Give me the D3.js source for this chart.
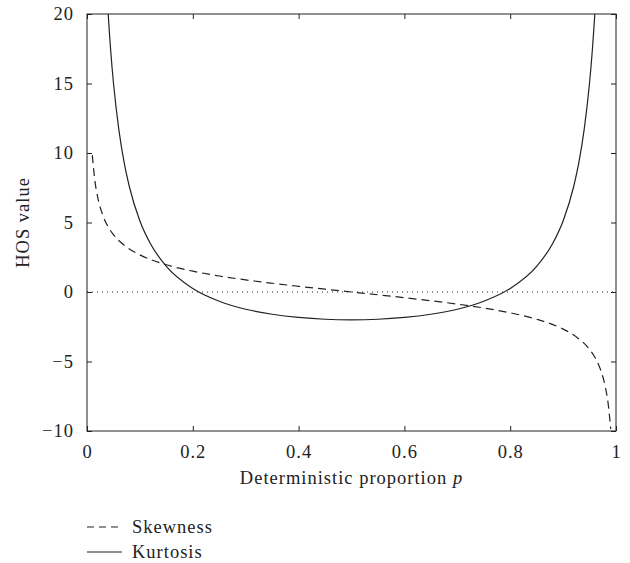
<!DOCTYPE html>
<html>
<head>
<meta charset="utf-8">
<script src="https://cdn.jsdelivr.net/npm/d3@7"></script>
<style>
  body { margin: 0; background: #fff; }
  svg text { font-family: "Liberation Serif", "Times New Roman", serif; fill: #222; letter-spacing: 1px; }
</style>
</head>
<body>
<div id="chart"></div>
<script>
"use strict";

// values
const skewP = [0.01, 0.015, 0.02, 0.03, 0.04, 0.05, 0.075, 0.1, 0.15, 0.2, 0.25, 0.3, 0.35, 0.4, 0.45, 0.5,
  0.55, 0.6, 0.65, 0.7, 0.75, 0.8, 0.85, 0.9, 0.925, 0.95, 0.96, 0.97, 0.98, 0.985, 0.99];
const skewVal = [9.85, 7.98, 6.86, 5.51, 4.69, 4.13, 3.23, 2.67, 1.96, 1.5, 1.15, 0.87, 0.63, 0.41, 0.2, 0,
  -0.2, -0.41, -0.63, -0.87, -1.15, -1.5, -1.96, -2.67, -3.23, -4.13, -4.69, -5.51, -6.86, -7.98, -9.85];

const kurtP = [0.035, 0.04, 0.045, 0.05, 0.06, 0.07, 0.08, 0.1, 0.12, 0.15, 0.2, 0.25, 0.3, 0.35, 0.4, 0.45, 0.5,
  0.55, 0.6, 0.65, 0.7, 0.75, 0.8, 0.85, 0.88, 0.9, 0.92, 0.93, 0.94, 0.95, 0.955, 0.96, 0.965];
const kurtVal = [23.6, 20.04, 17.27, 15.05, 11.73, 9.36, 7.59, 5.11, 3.47, 1.84, 0.25, -0.67, -1.24, -1.6, -1.83, -1.96, -2,
  -1.96, -1.83, -1.6, -1.24, -0.67, 0.25, 1.84, 3.47, 5.11, 7.59, 9.36, 11.73, 15.05, 17.27, 20.04, 23.6];

const xTicks = [0, 0.2, 0.4, 0.6, 0.8, 1];
const yTicks = [-10, -5, 0, 5, 10, 15, 20];
const legendLabels = ["Skewness", "Kurtosis"];

const W = 630, H = 563;
const margin = { top: 14, right: 14, bottom: 132, left: 87 };
const pw = W - margin.left - margin.right;
const ph = H - margin.top - margin.bottom;
const ink = "#222";
const fs = 18.5;

const svg = d3.select("#chart").append("svg")
  .attr("width", W)
  .attr("height", H);

const g = svg.append("g")
  .attr("transform", "translate(" + margin.left + "," + margin.top + ")");

const x = d3.scaleLinear().domain([0, 1]).range([0, pw]);
const y = d3.scaleLinear().domain([-10, 20]).range([ph, 0]);

g.append("clipPath").attr("id", "clip")
  .append("rect").attr("width", pw).attr("height", ph);

// zero line
g.append("line")
  .attr("x1", 0).attr("x2", pw)
  .attr("y1", y(0)).attr("y2", y(0))
  .attr("stroke", ink).attr("stroke-width", 1)
  .attr("stroke-dasharray", "1,4");

const line = d3.line()
  .x(d => x(d[0]))
  .y(d => y(d[1]))
  .curve(d3.curveMonotoneX);

g.append("path")
  .attr("clip-path", "url(#clip)")
  .attr("d", line(d3.zip(skewP, skewVal)))
  .attr("fill", "none").attr("stroke", ink).attr("stroke-width", 1.2)
  .attr("stroke-dasharray", "8,5");

g.append("path")
  .attr("clip-path", "url(#clip)")
  .attr("d", line(d3.zip(kurtP, kurtVal)))
  .attr("fill", "none").attr("stroke", ink).attr("stroke-width", 1.2);

// axes with inward ticks on all sides
function styleAxis(sel) {
  sel.select(".domain").remove();
  sel.selectAll(".tick line").attr("stroke", ink);
  sel.selectAll(".tick text").attr("font-size", fs).attr("fill", ink);
}

g.append("g")
  .attr("transform", "translate(0," + ph + ")")
  .call(d3.axisBottom(x).tickValues(xTicks).tickSizeInner(-5).tickPadding(14).tickFormat(d3.format("")))
  .call(styleAxis);

g.append("g")
  .call(d3.axisTop(x).tickValues(xTicks).tickSizeInner(-5).tickFormat(""))
  .call(styleAxis);

g.append("g")
  .call(d3.axisLeft(y).tickValues(yTicks).tickSizeInner(-5).tickPadding(13)
    .tickFormat(d => d < 0 ? "\u2212" + Math.abs(d) : d))
  .call(styleAxis);

g.append("g")
  .attr("transform", "translate(" + pw + ",0)")
  .call(d3.axisRight(y).tickValues(yTicks).tickSizeInner(-5).tickFormat(""))
  .call(styleAxis);

g.append("rect")
  .attr("width", pw).attr("height", ph)
  .attr("fill", "none").attr("stroke", ink).attr("stroke-width", 1);

// axis titles
const xt = svg.append("text")
  .attr("x", margin.left + pw / 2)
  .attr("y", 484)
  .attr("text-anchor", "middle")
  .attr("font-size", fs);
xt.append("tspan").text("Deterministic proportion ");
xt.append("tspan").attr("font-style", "italic").text("p");

svg.append("text")
  .attr("transform", "translate(29," + (margin.top + ph / 2) + ") rotate(-90)")
  .attr("text-anchor", "middle")
  .attr("font-size", fs)
  .text("HOS value");

// legend
const leg = svg.append("g").attr("transform", "translate(87,527)");
legendLabels.forEach((lab, i) => {
  const row = leg.append("g").attr("transform", "translate(0," + i * 25 + ")");
  row.append("line")
    .attr("x1", 0).attr("x2", 35)
    .attr("stroke", ink).attr("stroke-width", 1.2)
    .attr("stroke-dasharray", i === 0 ? "7,5" : null);
  row.append("text")
    .attr("x", 45).attr("y", 6)
    .attr("font-size", fs)
    .text(lab);
});
</script>
</body>
</html>
